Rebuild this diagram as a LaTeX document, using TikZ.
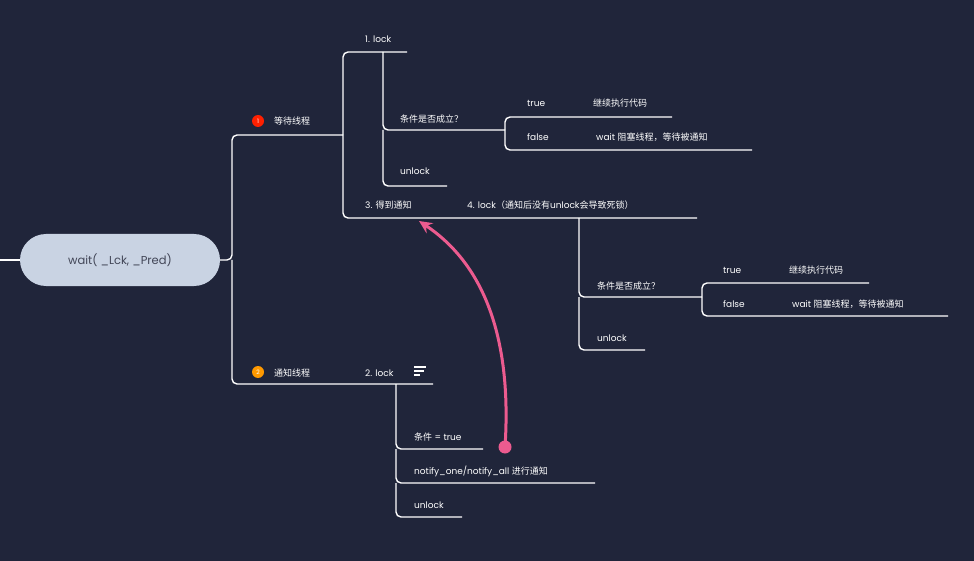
\documentclass[tikz,border=0pt]{standalone}
\usepackage{fontspec}
\setmainfont{Poppins}
\newfontfamily\cjk{Noto Sans CJK SC}
\usetikzlibrary{arrows.meta}
\definecolor{bg}{HTML}{20253A}
\definecolor{rootc}{HTML}{C9D3E3}
\definecolor{pinkc}{HTML}{EC5B8F}
\tikzset{
 lbl/.style={anchor=base west,inner sep=0pt,text=white,font=\fontsize{9}{10}\selectfont},
 ln/.style={draw=white,line width=1.4pt,rounded corners=5pt},
}
\begin{document}
\begin{tikzpicture}[x=1pt,y=-1pt]
\fill[bg] (0,0) rectangle (974,561);
\useasboundingbox (0,0) rectangle (974,561);
% root
\node[fill=rootc,rounded corners=26pt,minimum width=200pt,minimum height=52pt,text=bg!85,font=\fontsize{11.5}{13}\selectfont] (root) at (120,260) {wait( \_Lck, \_Pred)};
\coordinate (rl) at (0,260);
\draw[ln] (rl) -- (root.west);
% main branches
\draw[ln] (root.east) -- (232,260) -- (232,135) -- (343,135);
\draw[ln] (232,260) -- (232,384) -- (433,384);
\node[circle,fill=red!75!orange,inner sep=0pt,minimum size=12pt,text=white,font=\fontsize{6}{6}\selectfont] (i1) at (258,121) {1};
\node[lbl] (wt) at (274,125) {\cjk 等待线程};
\node[circle,fill=orange!80!yellow,inner sep=0pt,minimum size=12pt,text=white,font=\fontsize{6}{6}\selectfont] (i2) at (258,372) {2};
\node[lbl] (nt) at (274,376) {\cjk 通知线程};
% wait thread children
\draw[ln] (343,135) -- (343,52) -- (407,52);
\draw[ln] (343,135) -- (343,218) -- (697,218);
\node[lbl] (l1) at (365,43) {1. lock};
\node[lbl] (g3) at (365,209) {3. {\cjk 得到通知}};
\node[lbl] (l4) at (467,209) {4. lock{\cjk （通知后没有}unlock{\cjk 会导致死锁）}};
% 1. lock children
\draw[ln] (383,52) -- (383,130) -- (505,130);
\draw[ln] (383,130) -- (383,186) -- (447,186);
\node[lbl] (c1) at (400,123) {\cjk 条件是否成立？};
\node[lbl] (u1) at (400,175) {unlock};
\draw[ln] (505,130) -- (505,117) -- (672,117);
\draw[ln] (505,130) -- (505,150) -- (752,150);
\node[lbl] (t1) at (527,107) {true};
\node[lbl] (t1b) at (593,107) {\cjk 继续执行代码};
\node[lbl] (f1) at (527,141) {false};
\node[lbl] (f1b) at (596,141) {wait {\cjk 阻塞线程，等待被通知}};
% 4. lock children
\draw[ln] (579,218) -- (579,297) -- (702,297);
\draw[ln] (579,297) -- (579,350) -- (645,350);
\node[lbl] (c2) at (597,290) {\cjk 条件是否成立？};
\node[lbl] (u2) at (597,341) {unlock};
\draw[ln] (702,297) -- (702,283) -- (869,283);
\draw[ln] (702,297) -- (702,316) -- (948,316);
\node[lbl] (t2) at (723,273) {true};
\node[lbl] (t2b) at (789,273) {\cjk 继续执行代码};
\node[lbl] (f2) at (723,307) {false};
\node[lbl] (f2b) at (792,307) {wait {\cjk 阻塞线程，等待被通知}};
% notify thread children
\node[lbl] (l2) at (365,376) {2. lock};
\draw[white,line width=1.2pt] (414,367)--(426,367) (414,371)--(424,371) (414,375)--(420,375);
\draw[ln] (396,384) -- (396,449) -- (483,449);
\draw[ln] (396,449) -- (396,483) -- (595,483);
\draw[ln] (396,483) -- (396,517) -- (462,517);
\node[lbl] (n1) at (414,440) {{\cjk 条件} = true};
\node[lbl] (n2) at (414,474) {notify\_one/notify\_all {\cjk 进行通知}};
\node[lbl] (n3) at (414,508) {unlock};
% arrow
\node[circle,fill=pinkc,inner sep=0pt,minimum size=13pt] (dot) at (505,447) {};
\coordinate (tip) at (419,221);
\draw[pinkc,line width=3pt,-{Stealth[length=13pt,width=12pt]}] (dot.center) .. controls (512,340) and (485,265) .. (tip);
\end{tikzpicture}
\end{document}
